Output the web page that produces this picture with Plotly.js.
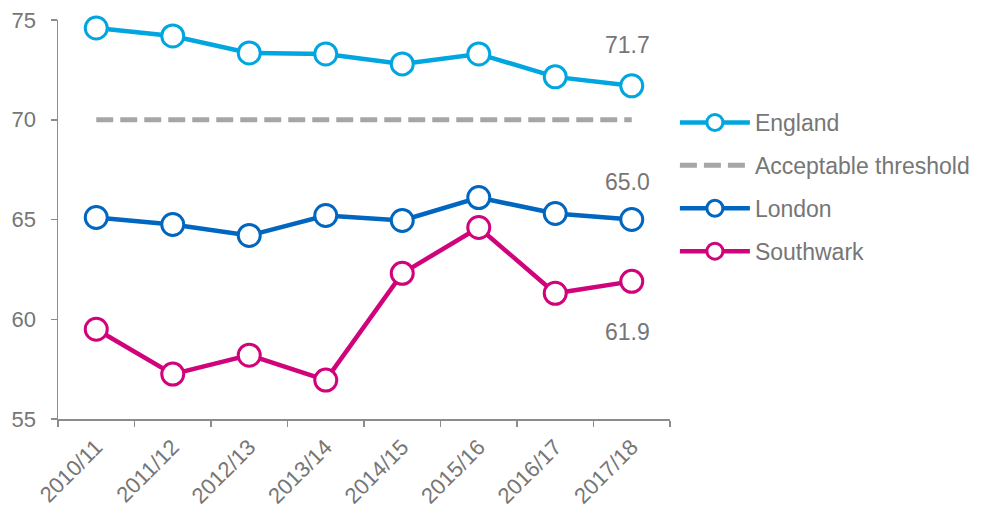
<!DOCTYPE html>
<html>
<head>
<meta charset="utf-8">
<script src="https://cdn.plot.ly/plotly-3.0.1.min.js"></script>
<style>html,body{margin:0;padding:0;background:#fff;}#chart{width:983px;height:509px;}</style>
</head>
<body>
<div id="chart"></div>
<script>
const years = ["2010/11","2011/12","2012/13","2013/14","2014/15","2015/16","2016/17","2017/18"];
const england = [74.6, 74.2, 73.35, 73.3, 72.8, 73.3, 72.15, 71.7];
const threshold = [70, 70, 70, 70, 70, 70, 70, 70];
const london = [65.1, 64.75, 64.2, 65.2, 64.95, 66.1, 65.3, 65.0];
const southwark = [59.5, 57.25, 58.2, 56.95, 62.3, 64.6, 61.3, 61.9];
const endLabels = ["71.7", "65.0", "61.9"];

const gray = "#767676";
const fam = "Liberation Sans, Arial, sans-serif";
const font = {family: fam, color: gray, size: 22};

function lineTrace(name, y, color, group) {
  return {
    x: years, y: y, name: name, type: "scatter", mode: "lines+markers",
    legendgroup: group,
    line: {color: color, width: 4.5},
    marker: {size: 22, color: "#ffffff", line: {color: color, width: 3}},
    cliponaxis: false
  };
}

const traces = [
  lineTrace("England", england, "#00a6df", "a"),
  {x: years, y: threshold, name: "Acceptable threshold", type: "scatter", mode: "lines",
   legendgroup: "b", line: {color: "#a6a6a6", width: 5, dash: "17px,7px"}},
  lineTrace("London", london, "#0066bf", "c"),
  lineTrace("Southwark", southwark, "#d0037b", "d")
];

const last = years[years.length - 1];
const annotations = [
  {x: last, y: england[7], text: endLabels[0], yshift: 41, xshift: -4},
  {x: last, y: london[7], text: endLabels[1], yshift: 38, xshift: -4},
  {x: last, y: southwark[7], text: endLabels[2], yshift: -51, xshift: -4}
].map(a => Object.assign({showarrow: false, font: {family: fam, color: gray, size: 23}, xref: "x", yref: "y"}, a));

const layout = {
  width: 983, height: 509,
  margin: {l: 58, r: 313, t: 20, b: 90, autoexpand: false},
  paper_bgcolor: "#ffffff", plot_bgcolor: "#ffffff",
  font: font,
  showlegend: true,
  legend: {x: 1.008, xanchor: "left", y: 0.797, yanchor: "top",
           font: {family: fam, color: gray, size: 23},
           itemwidth: 70,
           tracegroupgap: 10, bgcolor: "rgba(0,0,0,0)"},
  xaxis: {
    type: "category", showgrid: false, zeroline: false,
    showline: true, linecolor: "#8c8c8c", linewidth: 1.5,
    ticks: "outside", ticklen: 6, tickcolor: "#8c8c8c", tickwidth: 1.5,
    tickson: "boundaries", tickangle: -45,
    tickfont: {family: fam, color: gray, size: 22},
    ticklabelstandoff: 5,
    range: [-0.5, 7.5]
  },
  yaxis: {
    range: [55, 75], tickvals: [55, 60, 65, 70, 75],
    showgrid: false, zeroline: false,
    showline: true, linecolor: "#8c8c8c", linewidth: 1.5,
    ticks: "outside", ticklen: 6, tickcolor: "#8c8c8c", tickwidth: 1.5,
    tickfont: {family: fam, color: gray, size: 22},
    ticklabelstandoff: 10
  },
  annotations: annotations
};

Plotly.newPlot("chart", traces, layout, {displayModeBar: false, staticPlot: true});
</script>
</body>
</html>
